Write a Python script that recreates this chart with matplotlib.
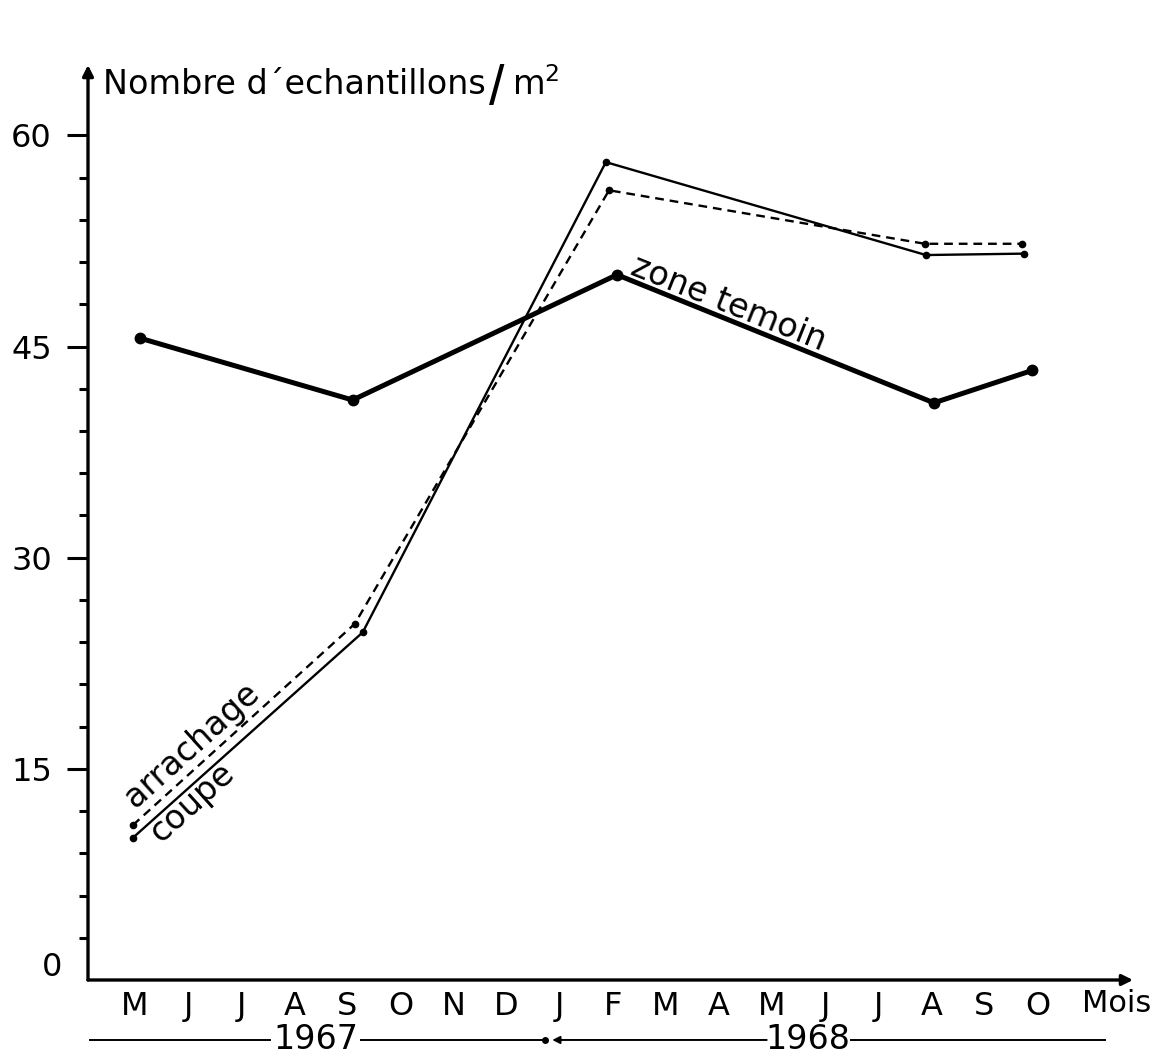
import matplotlib
matplotlib.use('Agg')
import matplotlib.pyplot as plt

plt.rcParams['font.family'] = ['DejaVu Sans']

# Month labels along the time axis (May 1967 -> Oct 1968)
months = ['M', 'J', 'J', 'A', 'S', 'O', 'N', 'D', 'J',
          'F', 'M', 'A', 'M', 'J', 'J', 'A', 'S', 'O']

# Sampling dates (month index from May 1967) and counts per m2
temoin_x = [0.09, 4.1, 9.08, 15.05, 16.9]
temoin_y = [45.6, 41.2, 50.1, 41.0, 43.3]

coupe_x = [-0.04, 4.29, 8.87, 14.9, 16.74]
coupe_y = [10.1, 24.7, 58.1, 51.5, 51.6]

arrachage_x = [-0.04, 4.14, 8.93, 14.88, 16.7]
arrachage_y = [11.0, 25.3, 56.1, 52.3, 52.3]

yticks = [15, 30, 45, 60]

fig = plt.figure(figsize=(11.63, 10.58), dpi=100)
ax = fig.add_axes([88 / 1163, 78 / 1058, 1045 / 1163, 915 / 1058])
ax.set_xlim(-0.885, 18.8)
ax.set_ylim(0, 65)

# series
ax.plot(temoin_x, temoin_y, color='black', lw=3.6, marker='o', ms=7.5,
        solid_joinstyle='round', solid_capstyle='round')
ax.plot(coupe_x, coupe_y, color='black', lw=1.7, marker='o', ms=4.5)
ax.plot(arrachage_x, arrachage_y, color='black', lw=1.7, marker='o', ms=4.5,
        linestyle=(0, (3.7, 2.5)))

# axes: only left and bottom, with arrow heads
for s in ['top', 'right', 'left', 'bottom']:
    ax.spines[s].set_visible(False)
ax.annotate('', xy=(0, 1.0), xytext=(0, 0), xycoords='axes fraction',
            arrowprops=dict(arrowstyle='-|>', lw=2.4, color='black',
                            mutation_scale=16, shrinkA=0, shrinkB=0))
ax.annotate('', xy=(1.0, 0), xytext=(0, 0), xycoords='axes fraction',
            arrowprops=dict(arrowstyle='-|>', lw=2.4, color='black',
                            mutation_scale=16, shrinkA=0, shrinkB=0))

# y ticks: long ones at labels, short ones every 3
ax.set_yticks(yticks)
ax.set_yticklabels([str(v) for v in yticks])
ax.set_yticks([v for v in range(3, 60, 3) if v % 15], minor=True)
ax.tick_params(axis='y', which='major', direction='out', length=15, width=2.2,
               pad=11, labelsize=23)
ax.tick_params(axis='y', which='minor', direction='out', length=6.5, width=2.2)
ax.text(-1.56, 0.92, '0', ha='center', va='center', fontsize=23, clip_on=False)

# x labels
ax.set_xticks(range(len(months)))
ax.set_xticklabels(months)
ax.tick_params(axis='x', length=0, pad=8, labelsize=23)
ax.text(18.5, -1.65, 'Mois', ha='center', va='center', fontsize=22, clip_on=False)

# year bands under the month labels
yy = -4.26
kw = dict(color='black', lw=1.4, clip_on=False)
ax.plot([-0.85, 2.55], [yy, yy], **kw)
ax.text(3.4, yy, '1967', ha='center', va='center', fontsize=24, clip_on=False)
ax.plot([4.25, 7.72], [yy, yy], **kw)
ax.plot([7.72], [yy], 'o', color='black', ms=4, clip_on=False)
ax.annotate('', xy=(7.86, yy), xytext=(11.9, yy), xycoords='data',
            arrowprops=dict(arrowstyle='-|>', lw=1.4, color='black',
                            mutation_scale=11, shrinkA=0, shrinkB=0),
            annotation_clip=False)
ax.text(12.68, yy, '1968', ha='center', va='center', fontsize=24, clip_on=False)
ax.plot([13.48, 18.27], [yy, yy], **kw)

# axis title, with a tall thin slash before the unit
ax.text(-0.6, 63.6, 'Nombre d\u00b4echantillons', ha='left', va='center',
        fontsize=24)
ax.text(6.82, 63.2, '/', ha='center', va='center', fontsize=40,
        family='Liberation Sans')
ax.text(7.1, 63.6, 'm$^{2}$', ha='left', va='center', fontsize=24)

# series labels drawn along the lines
ax.text(11.11, 47.4, 'zone temoin', rotation=-21.8, ha='center', va='baseline',
        fontsize=24, rotation_mode='anchor')
ax.text(1.2, 16.2, 'arrachage', rotation=42, ha='center', va='baseline',
        fontsize=24, rotation_mode='anchor')
ax.text(1.2, 12.1, 'coupe', rotation=42, ha='center', va='baseline',
        fontsize=24, rotation_mode='anchor')

fig.savefig('out.png', dpi=100)
